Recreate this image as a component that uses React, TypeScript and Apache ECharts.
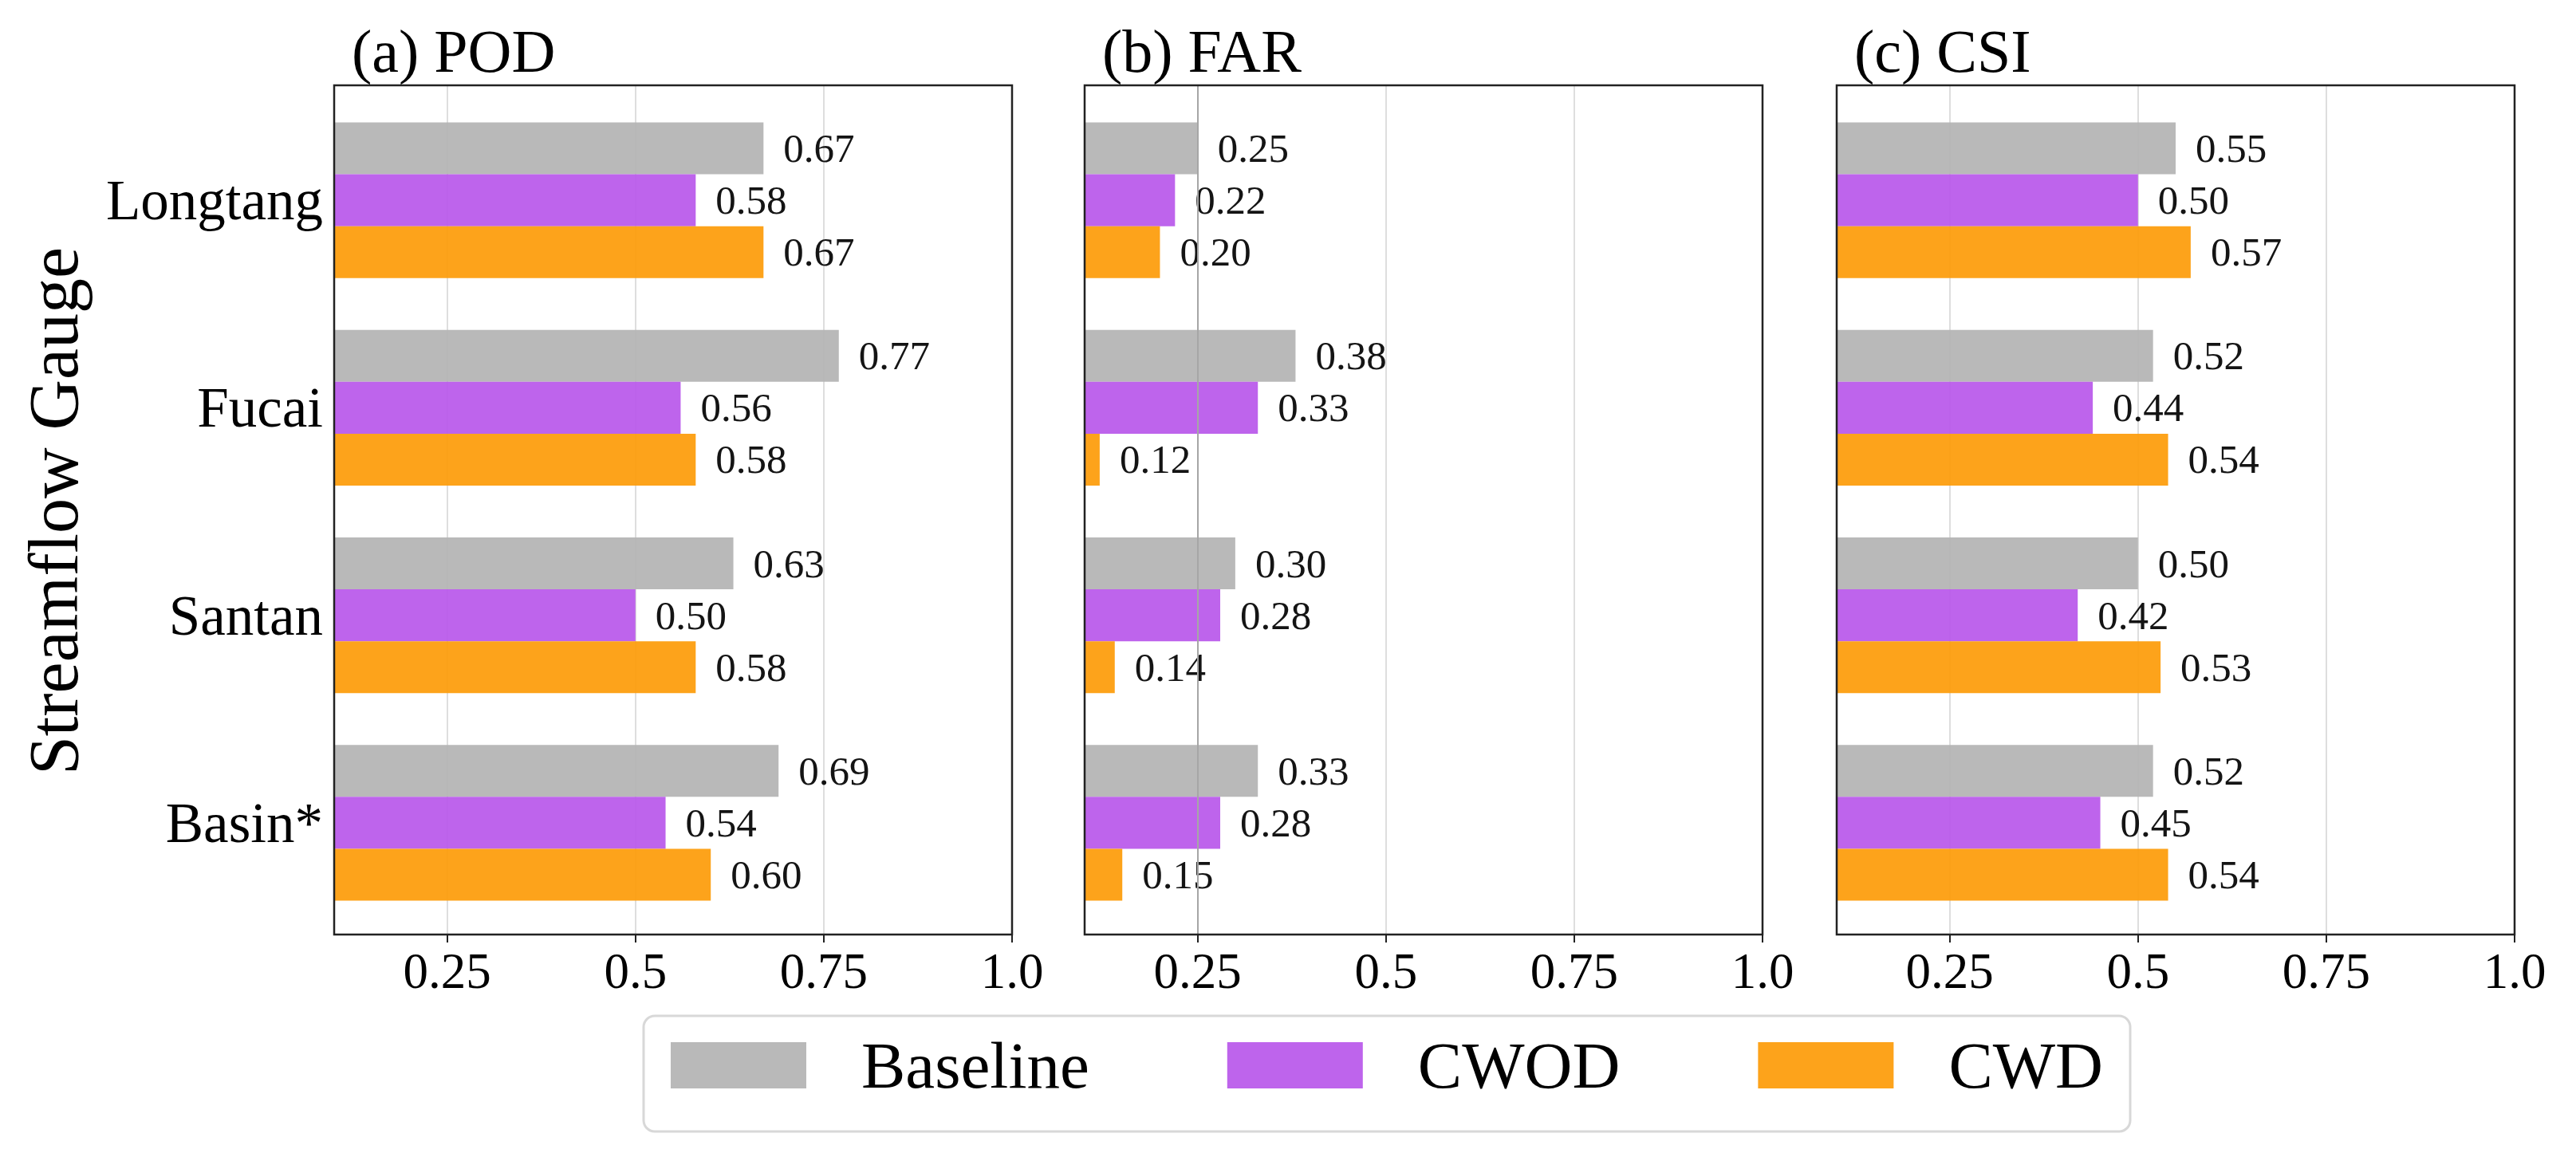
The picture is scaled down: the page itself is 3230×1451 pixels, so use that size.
import React, { useEffect, useRef } from "react";
import * as echarts from "echarts";

const categories = ["Longtang", "Fucai", "Santan", "Basin*"];
const seriesNames = ["Baseline", "CWOD", "CWD"];
const panelTitles = ["(a) POD", "(b) FAR", "(c) CSI"];

const podBaseline = [0.67, 0.77, 0.63, 0.69];
const podCWOD = [0.58, 0.56, 0.5, 0.54];
const podCWD = [0.67, 0.58, 0.58, 0.6];

const farBaseline = [0.25, 0.38, 0.3, 0.33];
const farCWOD = [0.22, 0.33, 0.28, 0.28];
const farCWD = [0.2, 0.12, 0.14, 0.15];

const csiBaseline = [0.55, 0.52, 0.5, 0.52];
const csiCWOD = [0.5, 0.44, 0.42, 0.45];
const csiCWD = [0.57, 0.54, 0.53, 0.54];

const tickValues = [0.25, 0.5, 0.75, 1.0];
const xMin = 0.1;
const xMax = 1.0;

const panelData = [
  [podBaseline, podCWOD, podCWD],
  [farBaseline, farCWOD, farCWD],
  [csiBaseline, csiCWOD, csiCWD],
];

const FONT = "Liberation Serif";
const barColors = ["#b3b3b3", "#b957ea", "#fd9b08"];

const panelLeft = [419, 1360, 2303];
const panelWidth = 850;
const frameTop = 107;
const frameHeight = 1065;
const innerTop = 121;
const innerHeight = 1041;

function fmtTick(v: number) {
  if (v === 1) return "1.0";
  return String(v);
}

export default function App() {
  const ref = useRef<HTMLDivElement>(null);
  useEffect(() => {
    if (!ref.current) return;
    const chart = echarts.init(ref.current, null, { renderer: "svg" });

    const grids: any[] = [];
    const xAxes: any[] = [];
    const yAxes: any[] = [];
    const series: any[] = [];
    const titles: any[] = [];

    for (let p = 0; p < 3; p++) {
      grids.push({
        left: panelLeft[p],
        width: panelWidth,
        top: frameTop,
        height: frameHeight,
        show: true,
        borderColor: "#222",
        borderWidth: 2.5,
        backgroundColor: "transparent",
        z: 5,
        outerBoundsMode: "none",
      });
    }
    for (let p = 0; p < 3; p++) {
      grids.push({
        left: panelLeft[p],
        width: panelWidth,
        top: innerTop,
        height: innerHeight,
        show: false,
        outerBoundsMode: "none",
      });
    }
    // frame x axes 0..2
    for (let p = 0; p < 3; p++) {
      xAxes.push({
        type: "value",
        gridIndex: p,
        min: xMin,
        max: xMax,
        position: "bottom",
        axisLine: { show: false },
        axisTick: {
          show: true,
          length: 10,
          customValues: tickValues,
          lineStyle: { color: "#222", width: 2 },
        },
        axisLabel: {
          show: true,
          customValues: tickValues,
          formatter: (v: number) => fmtTick(v),
          fontSize: 63,
          fontFamily: FONT,
          color: "#000",
          margin: 14,
        },
        splitLine: { show: true, lineStyle: { color: "#dedede", width: 2 } },
      });
    }
    // inner x axes 3..5
    for (let p = 0; p < 3; p++) {
      xAxes.push({
        type: "value",
        gridIndex: 3 + p,
        min: xMin,
        max: xMax,
        show: false,
      });
    }
    // extra darker reference line for panel b at 0.25 (index 6)
    xAxes.push({
      type: "value",
      gridIndex: 1,
      min: xMin,
      max: xMax,
      position: "top",
      z: 3,
      axisLine: { show: false },
      axisTick: { show: false, customValues: [0.25] },
      axisLabel: { show: false, customValues: [0.25] },
      splitLine: { show: true, lineStyle: { color: "#a6a6a6", width: 2 } },
    });

    for (let p = 0; p < 3; p++) {
      yAxes.push({ type: "value", gridIndex: p, show: false });
    }
    for (let p = 0; p < 3; p++) {
      yAxes.push({
        type: "category",
        gridIndex: 3 + p,
        data: categories,
        inverse: true,
        axisLine: { show: false },
        axisTick: { show: false },
        splitLine: { show: false },
        axisLabel: {
          show: p === 0,
          fontSize: 71,
          fontFamily: FONT,
          color: "#000",
          margin: 14,
        },
      });
    }

    for (let p = 0; p < 3; p++) {
      for (let s = 0; s < 3; s++) {
        series.push({
          type: "bar",
          name: seriesNames[s],
          xAxisIndex: 3 + p,
          yAxisIndex: 3 + p,
          data: panelData[p][s],
          barGap: "0%",
          barCategoryGap: "25%",
          itemStyle: { color: barColors[s], opacity: 0.92 },
          label: {
            show: true,
            position: "right",
            distance: 25,
            fontSize: 51,
            fontFamily: FONT,
            color: "#000",
            formatter: (d: any) => Number(d.value).toFixed(2),
          },
        });
      }
      titles.push({
        text: panelTitles[p],
        left: panelLeft[p] + 17,
        top: 21,
        textStyle: {
          fontSize: 76,
          fontFamily: FONT,
          fontWeight: "normal",
          color: "#000",
        },
      });
    }

    chart.setOption({
      animation: false,
      backgroundColor: "#fff",
      textStyle: { fontFamily: FONT },
      title: titles,
      grid: grids,
      xAxis: xAxes,
      yAxis: yAxes,
      series,
      legend: {
        data: seriesNames,
        left: 807,
        top: 1274,
        orient: "horizontal",
        icon: "rect",
        itemWidth: 170,
        itemHeight: 58,
        itemGap: 173,
        padding: [20, 34, 41, 34],
        borderColor: "#d8d8d8",
        borderWidth: 3,
        borderRadius: 14,
        backgroundColor: "#fff",
        selectedMode: false,
        textStyle: {
          fontSize: 83,
          lineHeight: 84,
          fontFamily: FONT,
          color: "#000",
          padding: [0, 0, 0, 64],
        },
      },
      graphic: [
        {
          type: "text",
          x: 67,
          y: 641,
          rotation: Math.PI / 2,
          style: {
            text: "Streamflow Gauge",
            font: `88px "${FONT}"`,
            fill: "#000",
            textAlign: "center",
            textVerticalAlign: "middle",
          },
        },
      ],
    });
    return () => chart.dispose();
  }, []);
  return (
    <div
      ref={ref}
      style={{
        position: "fixed",
        left: 0,
        top: 0,
        width: 3230,
        height: 1451,
        background: "#fff",
      }}
    />
  );
}
